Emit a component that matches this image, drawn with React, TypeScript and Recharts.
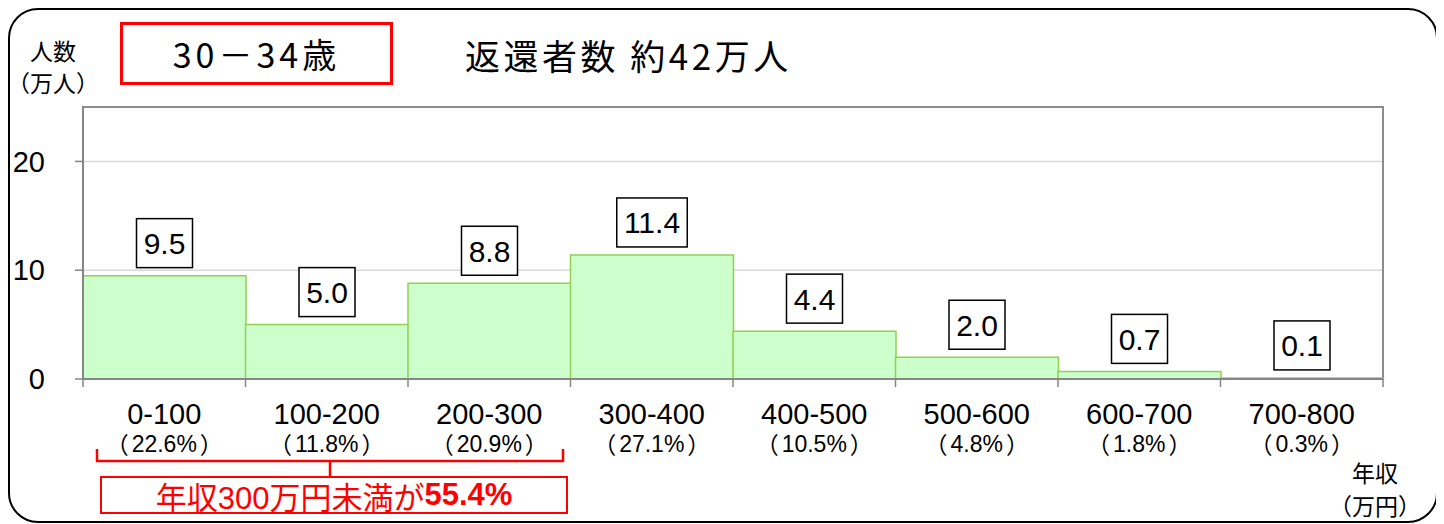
import { Bar, BarChart, CartesianGrid, LabelList, ReferenceArea, XAxis, YAxis } from 'recharts';

// 30-34歳の年収分布（返還者）
const incomeBands = ['0-100', '100-200', '200-300', '300-400', '400-500', '500-600', '600-700', '700-800'];
const people = [9.5, 5.0, 8.8, 11.4, 4.4, 2.0, 0.7, 0.1];
const shares = ['22.6', '11.8', '20.9', '27.1', '10.5', '4.8', '1.8', '0.3'];
const yTicks = [0, 10, 20];

const data = incomeBands.map((band, i) => ({ band, people: people[i], share: shares[i] }));

const NUM_FONT = '"Liberation Sans", Arial, sans-serif';
const JP_FONT = '"Noto Sans CJK JP", sans-serif';
const MIX_FONT = '"Liberation Sans", "Noto Sans CJK JP", sans-serif';
const HALF_BAND = 1300 / incomeBands.length / 2;

function BandTick({ x, y, payload, index }: any) {
  const i = payload.index ?? index;
  const row = data[i];
  const last = i === incomeBands.length - 1;
  return (
    <g>
      <line x1={x - HALF_BAND} x2={x - HALF_BAND} y1={y} y2={y + 8} stroke="#868686" strokeWidth={1.5} />
      {last && <line x1={x + HALF_BAND} x2={x + HALF_BAND} y1={y} y2={y + 8} stroke="#868686" strokeWidth={1.5} />}
      <text x={x} y={y + 35} textAnchor="middle" dominantBaseline="central" fontFamily={NUM_FONT} fontSize={29} fill="#000">
        {payload.value}
      </text>
      <text x={x} y={y + 65} textAnchor="middle" dominantBaseline="central" fontFamily={NUM_FONT} fontSize={23} fill="#000">
        <tspan fontFamily={JP_FONT} fontSize={23}>（</tspan>
        <tspan dx={3}>{row?.share}%</tspan>
        <tspan fontFamily={JP_FONT} fontSize={23} dx={3}>）</tspan>
      </text>
    </g>
  );
}

function ValueBox({ x, y, width, value }: any) {
  const label = Number(value).toFixed(1);
  const textW = label.split('').reduce((w: number, c: string) => w + (c === '.' ? 7 : 14.5), 0);
  const boxW = textW + 20;
  const cx = x + width / 2;
  const bottom = y - 8;
  return (
    <g>
      <rect x={cx - boxW / 2} y={bottom - 49} width={boxW} height={49} fill="#fff" stroke="#000" strokeWidth={1.5} />
      <text x={cx} y={bottom - 24} textAnchor="middle" dominantBaseline="central" fontFamily={NUM_FONT} fontSize={30} fill="#000">
        {label}
      </text>
    </g>
  );
}

export default function App() {
  return (
    <div style={{ position: 'relative', width: 1430, height: 515 }}>
      <div
        style={{
          position: 'absolute',
          inset: 0,
          border: '2px solid #000',
          borderRadius: 30,
          boxSizing: 'border-box',
        }}
      />
      <BarChart
        width={1430}
        height={515}
        data={data}
        margin={{ top: 99, right: 55, left: 0, bottom: 0 }}
        barCategoryGap={0}
        style={{ position: 'absolute', left: 0, top: 0 }}
      >
        <ReferenceArea y1={0} y2={25} fill="none" stroke="#8c8c8c" strokeWidth={2} ifOverflow="visible" />
        <CartesianGrid vertical={false} horizontalValues={[10, 20]} stroke="#d9d9d9" strokeWidth={1.5} />
        <XAxis
          dataKey="band"
          height={144}
          tickLine={false}
          tickSize={0}
          tickMargin={0}
          axisLine={{ stroke: '#868686', strokeWidth: 2 }}
          tick={<BandTick />}
          interval={0}
        />
        <YAxis
          width={75}
          domain={[0, 25]}
          ticks={yTicks}
          tickSize={8}
          tickMargin={30}
          axisLine={{ stroke: '#868686', strokeWidth: 2 }}
          tickLine={{ stroke: '#868686', strokeWidth: 1.5 }}
          tick={{ fontFamily: NUM_FONT, fontSize: 29, fill: '#000' }}
          allowDataOverflow
        />
        <Bar dataKey="people" fill="#ccffcc" stroke="#92d050" strokeWidth={1.5} isAnimationActive={false}>
          <LabelList dataKey="people" content={<ValueBox />} />
        </Bar>
      </BarChart>

      <div style={{ position: 'absolute', left: -2, top: 26, width: 94, textAlign: 'center', whiteSpace: 'nowrap', fontFamily: JP_FONT, fontSize: 23, lineHeight: '32px', color: '#000' }}>
        人数
        <br />
        （万人）
      </div>

      <div
        style={{
          position: 'absolute',
          left: 112,
          top: 14,
          width: 273,
          height: 63,
          boxSizing: 'border-box',
          border: '3px solid #ff0000',
          display: 'flex',
          alignItems: 'center',
          justifyContent: 'center',
          fontFamily: JP_FONT,
          fontSize: 34,
          letterSpacing: 4,
          color: '#000',
        }}
      >
        30－34歳
      </div>

      <div style={{ position: 'absolute', left: 457, top: 23, fontFamily: JP_FONT, fontSize: 35, lineHeight: '48px', letterSpacing: 3.5, color: '#000' }}>
        返還者数 約42万人
      </div>

      <svg style={{ position: 'absolute', left: 0, top: 0, overflow: 'visible' }} width={1430} height={515}>
        <path d="M89 441 V453 H555 V441 M322 453 V468" fill="none" stroke="#ff0000" strokeWidth={2.5} />
      </svg>

      <div
        style={{
          position: 'absolute',
          left: 92,
          top: 468,
          width: 468,
          height: 38,
          boxSizing: 'border-box',
          border: '2px solid #ff0000',
          display: 'flex',
          alignItems: 'center',
          justifyContent: 'center',
          fontFamily: MIX_FONT,
          fontSize: 31,
          color: '#ff0000',
          whiteSpace: 'nowrap',
        }}
      >
        <span>年収300万円未満が</span>
        <span style={{ fontWeight: 'bold' }}>55.4%</span>
      </div>

      <div style={{ position: 'absolute', left: 1320, top: 448, width: 94, textAlign: 'center', whiteSpace: 'nowrap', fontFamily: JP_FONT, fontSize: 23, lineHeight: '33px', color: '#000' }}>
        年収
        <br />
        （万円）
      </div>
    </div>
  );
}
